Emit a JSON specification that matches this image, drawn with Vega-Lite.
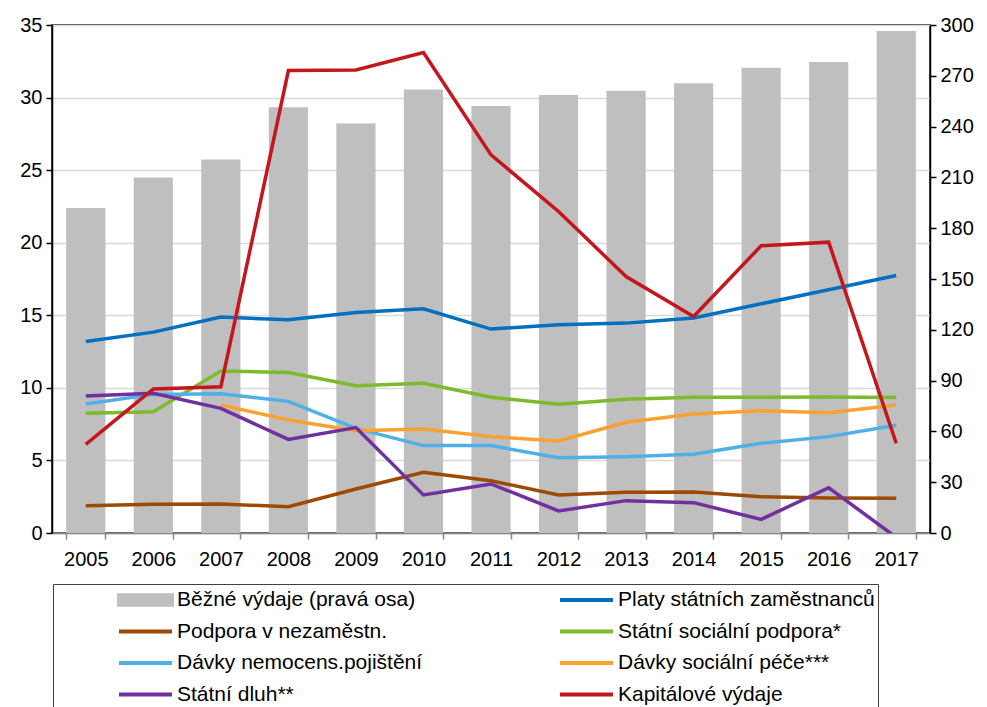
{
  "$schema": "https://vega.github.io/schema/vega-lite/v6.json",
  "width": 878,
  "height": 508,
  "autosize": "none",
  "padding": {"left": 52, "top": 25, "right": 57, "bottom": 174},
  "datasets": {
    "bezne": [
      {"year": "2005", "series": "Běžné výdaje (pravá osa)", "value": 192.0},
      {"year": "2006", "series": "Běžné výdaje (pravá osa)", "value": 210.0},
      {"year": "2007", "series": "Běžné výdaje (pravá osa)", "value": 220.5},
      {"year": "2008", "series": "Běžné výdaje (pravá osa)", "value": 251.5},
      {"year": "2009", "series": "Běžné výdaje (pravá osa)", "value": 241.8},
      {"year": "2010", "series": "Běžné výdaje (pravá osa)", "value": 261.9},
      {"year": "2011", "series": "Běžné výdaje (pravá osa)", "value": 252.2},
      {"year": "2012", "series": "Běžné výdaje (pravá osa)", "value": 258.7},
      {"year": "2013", "series": "Běžné výdaje (pravá osa)", "value": 261.1},
      {"year": "2014", "series": "Běžné výdaje (pravá osa)", "value": 265.6},
      {"year": "2015", "series": "Běžné výdaje (pravá osa)", "value": 274.7},
      {"year": "2016", "series": "Běžné výdaje (pravá osa)", "value": 278.2},
      {"year": "2017", "series": "Běžné výdaje (pravá osa)", "value": 296.5}
    ],
    "lines": [
      {"year": "2005", "series": "Platy státních zaměstnanců", "value": 13.2},
      {"year": "2006", "series": "Platy státních zaměstnanců", "value": 13.84},
      {"year": "2007", "series": "Platy státních zaměstnanců", "value": 14.88},
      {"year": "2008", "series": "Platy státních zaměstnanců", "value": 14.69},
      {"year": "2009", "series": "Platy státních zaměstnanců", "value": 15.19},
      {"year": "2010", "series": "Platy státních zaměstnanců", "value": 15.45},
      {"year": "2011", "series": "Platy státních zaměstnanců", "value": 14.05},
      {"year": "2012", "series": "Platy státních zaměstnanců", "value": 14.35},
      {"year": "2013", "series": "Platy státních zaměstnanců", "value": 14.46},
      {"year": "2014", "series": "Platy státních zaměstnanců", "value": 14.81},
      {"year": "2015", "series": "Platy státních zaměstnanců", "value": 15.79},
      {"year": "2016", "series": "Platy státních zaměstnanců", "value": 16.76},
      {"year": "2017", "series": "Platy státních zaměstnanců", "value": 17.74},
      {"year": "2005", "series": "Podpora v nezaměstn.", "value": 1.88},
      {"year": "2006", "series": "Podpora v nezaměstn.", "value": 1.98},
      {"year": "2007", "series": "Podpora v nezaměstn.", "value": 2.0},
      {"year": "2008", "series": "Podpora v nezaměstn.", "value": 1.81},
      {"year": "2009", "series": "Podpora v nezaměstn.", "value": 3.03},
      {"year": "2010", "series": "Podpora v nezaměstn.", "value": 4.18},
      {"year": "2011", "series": "Podpora v nezaměstn.", "value": 3.6},
      {"year": "2012", "series": "Podpora v nezaměstn.", "value": 2.62},
      {"year": "2013", "series": "Podpora v nezaměstn.", "value": 2.8},
      {"year": "2014", "series": "Podpora v nezaměstn.", "value": 2.82},
      {"year": "2015", "series": "Podpora v nezaměstn.", "value": 2.5},
      {"year": "2016", "series": "Podpora v nezaměstn.", "value": 2.41},
      {"year": "2017", "series": "Podpora v nezaměstn.", "value": 2.39},
      {"year": "2005", "series": "Státní sociální podpora*", "value": 8.25},
      {"year": "2006", "series": "Státní sociální podpora*", "value": 8.36},
      {"year": "2007", "series": "Státní sociální podpora*", "value": 11.16},
      {"year": "2008", "series": "Státní sociální podpora*", "value": 11.05},
      {"year": "2009", "series": "Státní sociální podpora*", "value": 10.15},
      {"year": "2010", "series": "Státní sociální podpora*", "value": 10.31},
      {"year": "2011", "series": "Státní sociální podpora*", "value": 9.35},
      {"year": "2012", "series": "Státní sociální podpora*", "value": 8.87},
      {"year": "2013", "series": "Státní sociální podpora*", "value": 9.21},
      {"year": "2014", "series": "Státní sociální podpora*", "value": 9.35},
      {"year": "2015", "series": "Státní sociální podpora*", "value": 9.35},
      {"year": "2016", "series": "Státní sociální podpora*", "value": 9.37},
      {"year": "2017", "series": "Státní sociální podpora*", "value": 9.33},
      {"year": "2005", "series": "Dávky nemocens.pojištění", "value": 8.89},
      {"year": "2006", "series": "Dávky nemocens.pojištění", "value": 9.55},
      {"year": "2007", "series": "Dávky nemocens.pojištění", "value": 9.6},
      {"year": "2008", "series": "Dávky nemocens.pojištění", "value": 9.07},
      {"year": "2009", "series": "Dávky nemocens.pojištění", "value": 7.21},
      {"year": "2010", "series": "Dávky nemocens.pojištění", "value": 6.02},
      {"year": "2011", "series": "Dávky nemocens.pojištění", "value": 6.02},
      {"year": "2012", "series": "Dávky nemocens.pojištění", "value": 5.19},
      {"year": "2013", "series": "Dávky nemocens.pojištění", "value": 5.26},
      {"year": "2014", "series": "Dávky nemocens.pojištění", "value": 5.42},
      {"year": "2015", "series": "Dávky nemocens.pojištění", "value": 6.18},
      {"year": "2016", "series": "Dávky nemocens.pojištění", "value": 6.64},
      {"year": "2017", "series": "Dávky nemocens.pojištění", "value": 7.42},
      {"year": "2007", "series": "Dávky sociální péče***", "value": 8.82},
      {"year": "2008", "series": "Dávky sociální péče***", "value": 7.79},
      {"year": "2009", "series": "Dávky sociální péče***", "value": 7.05},
      {"year": "2010", "series": "Dávky sociální péče***", "value": 7.17},
      {"year": "2011", "series": "Dávky sociální péče***", "value": 6.64},
      {"year": "2012", "series": "Dávky sociální péče***", "value": 6.34},
      {"year": "2013", "series": "Dávky sociální péče***", "value": 7.63},
      {"year": "2014", "series": "Dávky sociální péče***", "value": 8.2},
      {"year": "2015", "series": "Dávky sociální péče***", "value": 8.43},
      {"year": "2016", "series": "Dávky sociální péče***", "value": 8.29},
      {"year": "2017", "series": "Dávky sociální péče***", "value": 8.82},
      {"year": "2005", "series": "Státní dluh**", "value": 9.44},
      {"year": "2006", "series": "Státní dluh**", "value": 9.62},
      {"year": "2007", "series": "Státní dluh**", "value": 8.59},
      {"year": "2008", "series": "Státní dluh**", "value": 6.45},
      {"year": "2009", "series": "Státní dluh**", "value": 7.26},
      {"year": "2010", "series": "Státní dluh**", "value": 2.62},
      {"year": "2011", "series": "Státní dluh**", "value": 3.38},
      {"year": "2012", "series": "Státní dluh**", "value": 1.52},
      {"year": "2013", "series": "Státní dluh**", "value": 2.23},
      {"year": "2014", "series": "Státní dluh**", "value": 2.09},
      {"year": "2015", "series": "Státní dluh**", "value": 0.94},
      {"year": "2016", "series": "Státní dluh**", "value": 3.12},
      {"year": "2017", "series": "Státní dluh**", "value": -0.3},
      {"year": "2005", "series": "Kapitálové výdaje", "value": 6.11},
      {"year": "2006", "series": "Kapitálové výdaje", "value": 9.92},
      {"year": "2007", "series": "Kapitálové výdaje", "value": 10.08},
      {"year": "2008", "series": "Kapitálové výdaje", "value": 31.86},
      {"year": "2009", "series": "Kapitálové výdaje", "value": 31.9},
      {"year": "2010", "series": "Kapitálové výdaje", "value": 33.1},
      {"year": "2011", "series": "Kapitálové výdaje", "value": 26.05},
      {"year": "2012", "series": "Kapitálové výdaje", "value": 22.15},
      {"year": "2013", "series": "Kapitálové výdaje", "value": 17.67},
      {"year": "2014", "series": "Kapitálové výdaje", "value": 14.92},
      {"year": "2015", "series": "Kapitálové výdaje", "value": 19.79},
      {"year": "2016", "series": "Kapitálové výdaje", "value": 20.04},
      {"year": "2017", "series": "Kapitálové výdaje", "value": 6.18}
    ]
  },
  "layer": [
    {
      "data": {"name": "bezne"},
      "mark": {"type": "bar", "color": "#BFBFBF"},
      "encoding": {
        "x": {
          "field": "year", "type": "ordinal", "title": null,
          "scale": {"paddingInner": 0.42, "paddingOuter": 0.21},
          "axis": {"labelAngle": 0, "tickBand": "extent", "domainColor": "#868686", "tickColor": "#868686", "tickSize": 6, "labelPadding": 10}
        },
        "y": {
          "field": "value", "type": "quantitative", "title": null,
          "scale": {"domain": [0, 300], "nice": false},
          "axis": {"orient": "right", "values": [0, 30, 60, 90, 120, 150, 180, 210, 240, 270, 300], "grid": false, "domainColor": "black", "tickColor": "black", "tickSize": 6, "labelPadding": 4}
        },
        "color": {
          "field": "series", "type": "nominal", "title": null,
          "scale": {
            "domain": ["Běžné výdaje (pravá osa)", "Podpora v nezaměstn.", "Dávky nemocens.pojištění", "Státní dluh**", "Platy státních zaměstnanců", "Státní sociální podpora*", "Dávky sociální péče***", "Kapitálové výdaje"],
            "range": ["#BFBFBF", "#9C4A06", "#4FB0E8", "#7030A0", "#0070C0", "#7DBB2D", "#FBA22E", "#C4161C"]
          },
          "legend": {
            "orient": "none", "legendX": 1, "legendY": 559, "columns": 2,
            "symbolSize": 2809, "clipHeight": 26, "rowPadding": 5.5, "columnPadding": 74,
            "padding": 3, "symbolOffset": 61, "labelOffset": 3,
            "strokeColor": "#404040", "fillColor": "white",
            "labelFontSize": 21, "labelColor": "black", "labelLimit": 400,
            "encode": {
              "symbols": {
                "update": {
                  "shape": {"signal": "datum.value === 'Běžné výdaje (pravá osa)' ? 'M-1,-0.18H1V0.18H-1Z' : 'stroke'"},
                  "fill": {"signal": "datum.value === 'Běžné výdaje (pravá osa)' ? '#BFBFBF' : 'transparent'"},
                  "stroke": {"signal": "datum.value === 'Běžné výdaje (pravá osa)' ? 'transparent' : scale('color', datum.value)"},
                  "strokeWidth": {"value": 4},
                  "opacity": {"value": 1}
                }
              }
            }
          }
        }
      }
    },
    {
      "data": {"name": "lines"},
      "mark": {"type": "line", "strokeWidth": 3.5, "clip": true},
      "encoding": {
        "x": {"field": "year", "type": "ordinal", "title": null},
        "y": {
          "field": "value", "type": "quantitative", "title": null,
          "scale": {"domain": [0, 35], "nice": false},
          "axis": {"orient": "left", "values": [0, 5, 10, 15, 20, 25, 30, 35], "grid": true, "gridColor": "#D9D9D9", "gridWidth": 1.5, "domainColor": "black", "tickColor": "black", "tickSize": 6, "labelPadding": 4}
        },
        "color": {"field": "series", "type": "nominal"}
      }
    }
  ],
  "resolve": {"scale": {"y": "independent"}},
  "config": {
    "font": "Liberation Sans",
    "view": {"stroke": "black", "strokeWidth": 1.5},
    "axis": {"labelFontSize": 20, "labelColor": "black", "domainWidth": 1.5, "tickWidth": 1.5, "labelFont": "Liberation Sans"},
    "legend": {"labelFont": "Liberation Sans"}
  }
}
